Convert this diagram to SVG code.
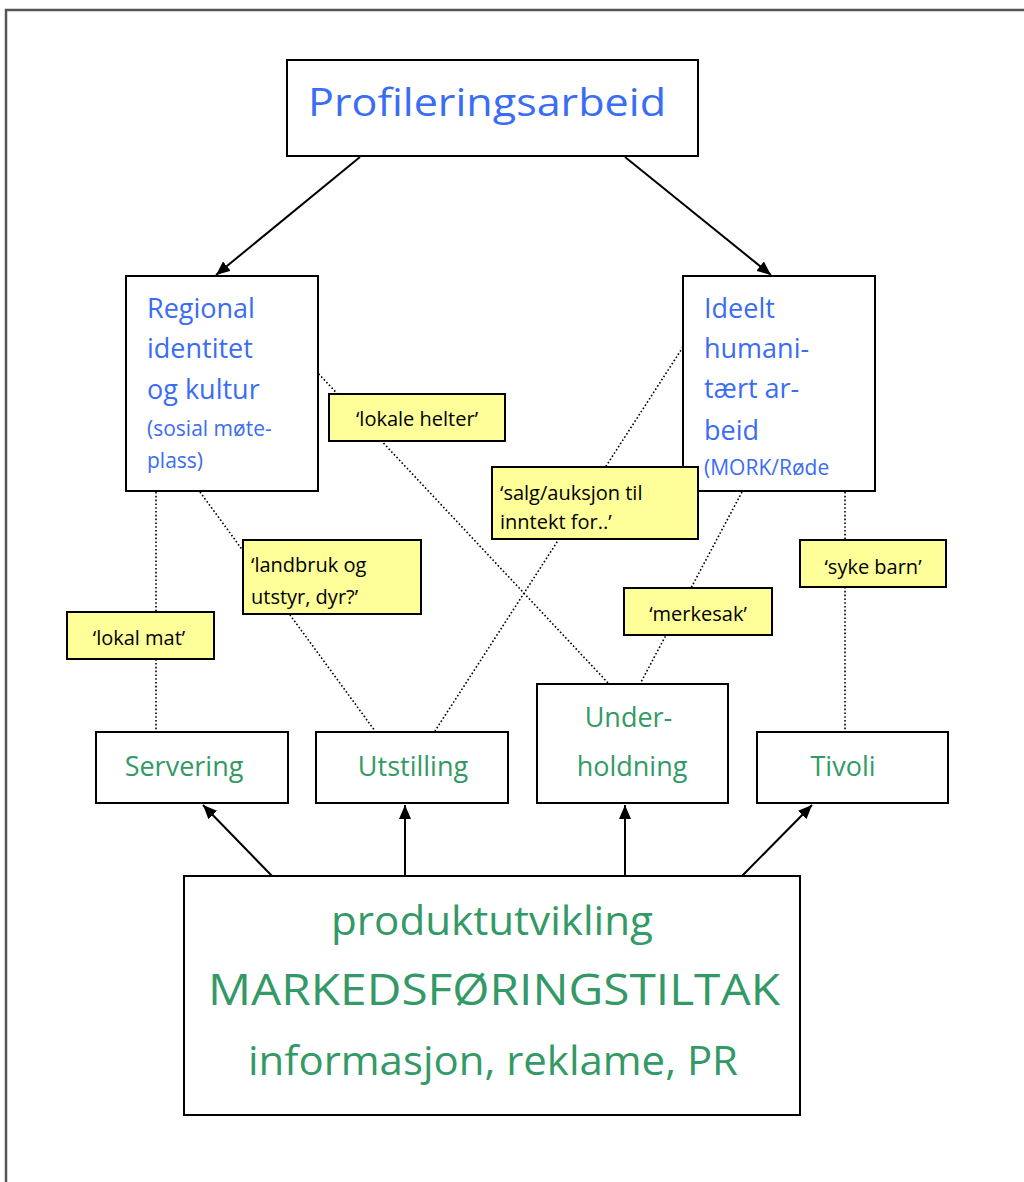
<svg xmlns="http://www.w3.org/2000/svg" width="1024" height="1182" viewBox="0 0 1024 1182">
  <style>
    .box { fill: #ffffff; stroke: #000000; stroke-width: 2; }
    .note { fill: #ffff99; stroke: #000000; stroke-width: 2; }
    .arrow { stroke: #000000; stroke-width: 2; fill: none; marker-end: url(#head); }
    .dots { stroke: #000000; stroke-width: 1.6; stroke-dasharray: 1.6 2.2; fill: none; }
    text { font-family: "Open Sans", "DejaVu Sans", sans-serif; }
    .blue { fill: #3a6cf4; }
    .green { fill: #339966; }
    .black { fill: #000000; }
  </style>
  <defs>
    <marker id="head" viewBox="0 0 14 12" refX="14" refY="6" markerWidth="14" markerHeight="12" markerUnits="userSpaceOnUse" orient="auto">
      <path d="M0,0 L14,6 L0,12 z" fill="#000000"/>
    </marker>
  </defs>

  <rect width="1024" height="1182" fill="#ffffff"/>
  <!-- page frame -->
  <path d="M6,1182 V10 H1024" fill="none" stroke="#555555" stroke-width="2.5"/>

  <!-- dotted associations, drawn beneath the notes -->
  <g id="associations">
    <line class="dots" x1="156" y1="492" x2="156" y2="731"/>
    <line class="dots" x1="316" y1="371" x2="609" y2="684"/>
    <line class="dots" x1="200" y1="492" x2="375" y2="731"/>
    <line class="dots" x1="683" y1="347" x2="435" y2="731"/>
    <line class="dots" x1="742" y1="492" x2="640" y2="684"/>
    <line class="dots" x1="845" y1="492" x2="845" y2="731"/>
  </g>

  <!-- arrows -->
  <g id="connectors">
    <line class="arrow" x1="360" y1="157" x2="216" y2="275"/>
    <line class="arrow" x1="625" y1="157" x2="771" y2="275"/>
    <line class="arrow" x1="272" y1="876" x2="203" y2="805"/>
    <line class="arrow" x1="405" y1="876" x2="405" y2="805"/>
    <line class="arrow" x1="625" y1="876" x2="625" y2="805"/>
    <line class="arrow" x1="742" y1="876" x2="812" y2="805"/>
  </g>

  <g id="profilering">
    <rect class="box" x="287" y="60" width="411" height="96"/>
    <text class="blue" x="308" y="116" font-size="38" textLength="358" lengthAdjust="spacingAndGlyphs">Profileringsarbeid</text>
  </g>

  <g id="regional">
    <rect class="box" x="126" y="276" width="192" height="215"/>
    <text class="blue" x="147" font-size="27">
      <tspan x="147" y="318">Regional</tspan>
      <tspan x="147" y="358">identitet</tspan>
      <tspan x="147" y="399">og kultur</tspan>
    </text>
    <text class="blue" font-size="21">
      <tspan x="147" y="436">(sosial møte-</tspan>
      <tspan x="147" y="468">plass)</tspan>
    </text>
  </g>

  <g id="ideelt">
    <rect class="box" x="683" y="276" width="192" height="215"/>
    <text class="blue" font-size="27">
      <tspan x="704" y="318">Ideelt</tspan>
      <tspan x="704" y="358">humani-</tspan>
      <tspan x="704" y="398">tært ar-</tspan>
      <tspan x="704" y="440">beid</tspan>
    </text>
    <text class="blue" x="704" y="475" font-size="21">(MORK/Røde</text>
  </g>

  <g id="note-lokale-helter">
    <rect class="note" x="329" y="394" width="176" height="47"/>
    <text class="black" x="417" y="426" font-size="20" text-anchor="middle">‘lokale helter’</text>
  </g>

  <g id="note-salg">
    <rect class="note" x="492" y="467" width="206" height="72"/>
    <text class="black" font-size="20">
      <tspan x="500" y="500">‘salg/auksjon til</tspan>
      <tspan x="500" y="529">inntekt for..’</tspan>
    </text>
  </g>

  <g id="note-landbruk">
    <rect class="note" x="243" y="540" width="178" height="74"/>
    <text class="black" font-size="20">
      <tspan x="251" y="572">‘landbruk og</tspan>
      <tspan x="251" y="604">utstyr, dyr?’</tspan>
    </text>
  </g>

  <g id="note-lokal-mat">
    <rect class="note" x="67" y="612" width="147" height="47"/>
    <text class="black" x="139" y="645" font-size="20" text-anchor="middle">‘lokal mat’</text>
  </g>

  <g id="note-merkesak">
    <rect class="note" x="624" y="588" width="148" height="47"/>
    <text class="black" x="698" y="621" font-size="20" text-anchor="middle">‘merkesak’</text>
  </g>

  <g id="note-syke-barn">
    <rect class="note" x="800" y="540" width="146" height="47"/>
    <text class="black" x="873" y="574" font-size="20" text-anchor="middle">‘syke barn’</text>
  </g>

  <g id="servering">
    <rect class="box" x="96" y="732" width="192" height="71"/>
    <text class="green" x="184" y="776" font-size="27" text-anchor="middle">Servering</text>
  </g>

  <g id="utstilling">
    <rect class="box" x="316" y="732" width="192" height="71"/>
    <text class="green" x="413" y="776" font-size="27" text-anchor="middle">Utstilling</text>
  </g>

  <g id="underholdning">
    <rect class="box" x="537" y="684" width="191" height="119"/>
    <text class="green" font-size="27" text-anchor="middle">
      <tspan x="632" y="727">Under-</tspan>
      <tspan x="632" y="776">holdning</tspan>
    </text>
  </g>

  <g id="tivoli">
    <rect class="box" x="757" y="732" width="191" height="71"/>
    <text class="green" x="843" y="776" font-size="27" text-anchor="middle">Tivoli</text>
  </g>

  <g id="markedsforing">
    <rect class="box" x="184" y="876" width="616" height="239"/>
    <text class="green" x="492" y="935" font-size="40" text-anchor="middle" textLength="322" lengthAdjust="spacingAndGlyphs">produktutvikling</text>
    <text class="green" x="494" y="1005" font-size="44" text-anchor="middle" textLength="572" lengthAdjust="spacingAndGlyphs">MARKEDSFØRINGSTILTAK</text>
    <text class="green" x="493" y="1075" font-size="40" text-anchor="middle" textLength="490" lengthAdjust="spacingAndGlyphs">informasjon, reklame, PR</text>
  </g>
</svg>
